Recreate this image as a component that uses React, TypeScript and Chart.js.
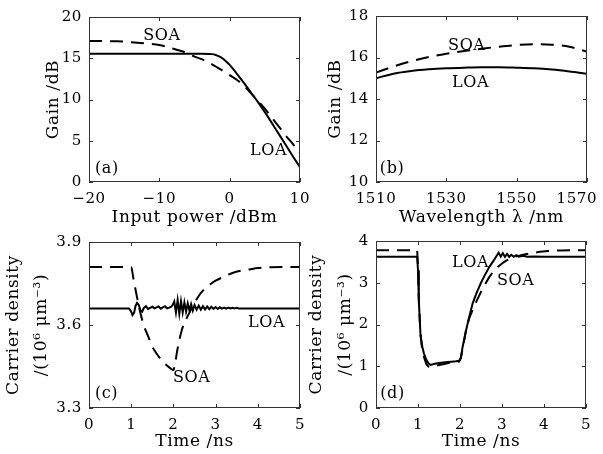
import React, { useEffect, useRef } from 'react';
import { Chart, registerables } from 'chart.js';

Chart.register(...registerables);

const SERIF = '"DejaVu Serif", "Liberation Serif", serif';

// ---------- Panel (a): gain vs input power ----------
const aPowerLOA = [-20, -10, -5, -4, -3, -2.5, -2, -1.5, -1, -0.5, 0, 1, 2, 3, 4, 5, 6, 7, 8, 9, 10];
const aGainLOA = [15.55, 15.55, 15.55, 15.55, 15.53, 15.5, 15.4, 15.22, 14.97, 14.62, 14.2, 13.15, 12.05, 10.88, 9.72, 8.47, 7.15, 5.8, 4.45, 3.1, 1.8];
const aPowerSOA = [-20, -16, -14, -12, -10, -9, -8, -7, -6, -5, -4, -3, -2, -1, 0, 1, 2, 3, 4, 5, 6, 7, 8, 9, 10];
const aGainSOA = [17.1, 17.05, 16.95, 16.8, 16.6, 16.4, 16.15, 15.9, 15.6, 15.2, 14.9, 14.5, 14.0, 13.5, 12.95, 12.4, 11.7, 10.78, 9.85, 8.9, 7.8, 6.7, 5.6, 4.6, 3.5];
const aTicksX = [-20, -10, 0, 10];
const aTicksY = [0, 5, 10, 15, 20];

// ---------- Panel (b): gain vs wavelength ----------
const bWave = [1510, 1515, 1520, 1525, 1530, 1535, 1540, 1545, 1550, 1555, 1560, 1565, 1570];
const bGainLOA = [15.0, 15.22, 15.35, 15.43, 15.48, 15.51, 15.53, 15.53, 15.51, 15.48, 15.42, 15.33, 15.22];
const bGainSOA = [15.27, 15.57, 15.82, 16.02, 16.18, 16.31, 16.42, 16.52, 16.6, 16.64, 16.62, 16.52, 16.28];
const bTicksX = [1510, 1530, 1550, 1570];
const bTicksY = [10, 12, 14, 16, 18];

// ---------- Panel (c): carrier density vs time (small) ----------
const cTimeLOA = [0, 0.95, 1.0, 1.03, 1.07, 1.1, 1.14, 1.18, 1.22, 1.26, 1.3, 1.35, 1.4, 1.45, 1.5, 1.55, 1.6, 1.65, 1.7, 1.75, 1.8, 1.85, 1.9, 1.95, 1.98, 2.02, 2.06, 2.1, 2.14, 2.18, 2.22, 2.26, 2.3, 2.34, 2.38, 2.42, 2.46, 2.5, 2.55, 2.6, 2.65, 2.7, 2.75, 2.8, 2.85, 2.9, 2.95, 3.0, 3.05, 3.1, 3.15, 3.2, 3.25, 3.3, 3.35, 3.4, 3.45, 3.5, 3.55, 5];
const cDensLOA = [3.66, 3.66, 3.648, 3.636, 3.645, 3.668, 3.68, 3.672, 3.652, 3.648, 3.662, 3.668, 3.658, 3.662, 3.666, 3.66, 3.664, 3.667, 3.659, 3.664, 3.668, 3.66, 3.663, 3.666, 3.672, 3.685, 3.645, 3.69, 3.64, 3.686, 3.645, 3.682, 3.648, 3.678, 3.652, 3.675, 3.652, 3.672, 3.655, 3.67, 3.655, 3.668, 3.656, 3.667, 3.657, 3.666, 3.658, 3.665, 3.658, 3.664, 3.659, 3.663, 3.659, 3.663, 3.66, 3.662, 3.66, 3.662, 3.66, 3.66];
const cTimeSOA = [0, 1.0, 1.05, 1.1, 1.2, 1.3, 1.4, 1.5, 1.6, 1.7, 1.8, 1.9, 2.0, 2.05, 2.1, 2.2, 2.3, 2.4, 2.5, 2.6, 2.7, 2.8, 2.9, 3.0, 3.2, 3.4, 3.6, 3.8, 4.0, 4.3, 5];
const cDensSOA = [3.81, 3.81, 3.77, 3.73, 3.655, 3.598, 3.56, 3.522, 3.497, 3.477, 3.46, 3.447, 3.437, 3.47, 3.515, 3.582, 3.62, 3.65, 3.68, 3.705, 3.724, 3.738, 3.75, 3.76, 3.775, 3.788, 3.796, 3.801, 3.806, 3.809, 3.81];
const cTicksX = [0, 1, 2, 3, 4, 5];
const cTicksY = [3.3, 3.6, 3.9];

// ---------- Panel (d): carrier density vs time (large) ----------
const dTimeLOA = [0, 0.98, 1.0, 1.02, 1.06, 1.1, 1.14, 1.2, 1.25, 1.3, 1.4, 1.5, 1.6, 1.7, 1.8, 1.9, 1.98, 2.02, 2.06, 2.12, 2.2, 2.3, 2.4, 2.5, 2.6, 2.7, 2.8, 2.87, 2.92, 2.97, 3.02, 3.07, 3.12, 3.17, 3.22, 3.28, 3.34, 3.4, 3.5, 3.6, 3.75, 4, 5];
const dDensLOA = [3.62, 3.62, 3.3, 2.55, 1.75, 1.48, 1.31, 1.15, 1.07, 1.03, 1.06, 1.08, 1.09, 1.1, 1.11, 1.12, 1.13, 1.2, 1.45, 1.75, 2.1, 2.5, 2.77, 3.0, 3.2, 3.38, 3.53, 3.64, 3.72, 3.63, 3.71, 3.62, 3.69, 3.62, 3.67, 3.62, 3.66, 3.625, 3.645, 3.625, 3.63, 3.62, 3.62];
const dTimeSOA = [0, 0.98, 1.0, 1.02, 1.06, 1.1, 1.15, 1.2, 1.25, 1.3, 1.4, 1.5, 1.6, 1.7, 1.8, 1.9, 1.98, 2.02, 2.08, 2.15, 2.22, 2.3, 2.4, 2.5, 2.6, 2.7, 2.8, 2.9, 3.0, 3.1, 3.2, 3.3, 3.5, 3.7, 3.9, 4.1, 4.4, 5];
const dDensSOA = [3.78, 3.78, 3.4, 2.6, 1.75, 1.4, 1.2, 1.05, 0.99, 0.98, 1.0, 1.03, 1.05, 1.07, 1.09, 1.1, 1.11, 1.2, 1.5, 1.9, 2.15, 2.35, 2.57, 2.78, 2.97, 3.14, 3.28, 3.38, 3.46, 3.53, 3.58, 3.62, 3.67, 3.71, 3.74, 3.76, 3.775, 3.78];
const dTicksX = [0, 1, 2, 3, 4, 5];
const dTicksY = [0, 1, 2, 3, 4];

// ---------- text annotations (data coordinates) ----------
const aNotes = [
  { text: 'SOA', x: -12.3, y: 17.27 },
  { text: 'LOA', x: 2.9, y: 3.27 },
  { text: '(a)', x: -19.15, y: 1.09 },
];
const bNotes = [
  { text: 'SOA', x: 1530.5, y: 16.36 },
  { text: 'LOA', x: 1531.6, y: 14.58 },
  { text: '(b)', x: 1511.1, y: 10.43 },
];
const cNotes = [
  { text: 'LOA', x: 3.77, y: 3.593 },
  { text: 'SOA', x: 1.99, y: 3.394 },
  { text: '(c)', x: 0.14, y: 3.336 },
];
const dNotes = [
  { text: 'LOA', x: 1.81, y: 3.38 },
  { text: 'SOA', x: 2.88, y: 2.95 },
  { text: '(d)', x: 0.1, y: 0.24 },
];

const minusFmt = (v: number) => (v < 0 ? '\u2212' + Math.abs(v) : String(v));
// last wavelength label sits slightly left of its tick, as in the original figure
const waveFmt = (v: number) => (v === bTicksX[bTicksX.length - 1] ? String(v) + '\u2007\u2007' : String(v));

const boxPlugin = {
  id: 'box',
  beforeDraw(chart: any) {
    chart.ctx.letterSpacing = '0.6px';
  },
  afterDatasetsDraw(chart: any) {
    const { ctx, chartArea } = chart;
    const { left, right, top, bottom } = chartArea;
    const xs = chart.scales.x;
    const ys = chart.scales.y;
    ctx.save();
    ctx.strokeStyle = '#333';
    ctx.lineWidth = 1;
    ctx.setLineDash([]);
    ctx.strokeRect(Math.round(left) + 0.5, Math.round(top) + 0.5, Math.round(right - left) - 1, Math.round(bottom - top) - 1);
    const L = 4;
    ctx.beginPath();
    xs.ticks.forEach((t: any) => {
      const px = Math.round(xs.getPixelForValue(t.value)) + 0.5;
      ctx.moveTo(px, bottom);
      ctx.lineTo(px, bottom - L);
      ctx.moveTo(px, top);
      ctx.lineTo(px, top + L);
    });
    ys.ticks.forEach((t: any) => {
      const py = Math.round(ys.getPixelForValue(t.value)) + 0.5;
      ctx.moveTo(left, py);
      ctx.lineTo(left + L, py);
      ctx.moveTo(right, py);
      ctx.lineTo(right - L, py);
    });
    ctx.stroke();
    ctx.restore();
  },
};

const notesPlugin = {
  id: 'notes',
  afterDatasetsDraw(chart: any, _args: any, opts: any) {
    const { ctx } = chart;
    const xs = chart.scales.x;
    const ys = chart.scales.y;
    ctx.save();
    ctx.font = `16px ${SERIF}`;
    ctx.fillStyle = '#000';
    ctx.textAlign = 'left';
    ctx.textBaseline = 'alphabetic';
    (opts.items || []).forEach((n: any) => {
      ctx.fillText(n.text, xs.getPixelForValue(n.x), ys.getPixelForValue(n.y));
    });
    ctx.restore();
  },
};

type Series = { xs: number[]; ys: number[]; dashed: boolean; smooth: boolean };
type Spec = {
  left: number; top: number; W: number; H: number;
  area: [number, number, number, number];
  xMin: number; xMax: number; yMin: number; yMax: number;
  xTicks: number[]; yTicks: number[];
  xFmt: (v: number) => string; yFmt: (v: number) => string;
  xTitle: string; yTitle: string | string[];
  yTitleLineHeight: number | string; yTitlePad: number; xTitlePad: number;
  series: Series[];
  notes: { text: string; x: number; y: number }[];
};

function buildConfig(p: Spec): any {
  const [l, t, r, b] = p.area;
  const tickFont = { family: SERIF, size: 15 };
  return {
    type: 'line',
    data: {
      datasets: p.series.map((s) => ({
        data: s.xs.map((x, i) => ({ x, y: s.ys[i] })),
        borderColor: '#000',
        borderWidth: 2,
        borderDash: s.dashed ? [13, 8] : [],
        pointRadius: 0,
        fill: false,
        tension: 0,
        cubicInterpolationMode: s.smooth ? 'monotone' : 'default',
      })),
    },
    options: {
      responsive: false,
      animation: false,
      devicePixelRatio: 1,
      events: [],
      layout: { padding: { left: 0, top: t, right: p.W - r, bottom: 0 } },
      plugins: {
        legend: { display: false },
        tooltip: { enabled: false },
        notes: { items: p.notes },
      },
      scales: {
        x: {
          type: 'linear',
          min: p.xMin,
          max: p.xMax,
          afterBuildTicks: (sc: any) => {
            sc.ticks = p.xTicks.map((v) => ({ value: v }));
          },
          afterFit: (sc: any) => {
            sc.height = p.H - b;
            sc.paddingLeft = 0;
            sc.paddingRight = 0;
          },
          ticks: {
            font: tickFont,
            color: '#000',
            padding: 8,
            maxRotation: 0,
            autoSkip: false,
            callback: (v: any) => p.xFmt(Number(v)),
          },
          grid: { display: false, drawTicks: false },
          border: { display: false },
          title: {
            display: true,
            text: p.xTitle,
            color: '#000',
            font: { family: SERIF, size: 17 },
            padding: { top: 0, bottom: p.xTitlePad },
          },
        },
        y: {
          type: 'linear',
          min: p.yMin,
          max: p.yMax,
          afterBuildTicks: (sc: any) => {
            sc.ticks = p.yTicks.map((v) => ({ value: v }));
          },
          afterFit: (sc: any) => {
            sc.width = l;
            sc.paddingTop = 0;
            sc.paddingBottom = 0;
          },
          ticks: {
            font: tickFont,
            color: '#000',
            padding: 7,
            autoSkip: false,
            callback: (v: any) => p.yFmt(Number(v)),
          },
          grid: { display: false, drawTicks: false },
          border: { display: false },
          title: {
            display: true,
            text: p.yTitle,
            color: '#000',
            font: { family: SERIF, size: 17, lineHeight: p.yTitleLineHeight },
            padding: { top: p.yTitlePad, bottom: 0 },
          },
        },
      },
    },
    plugins: [boxPlugin, notesPlugin],
  };
}

const specs: Spec[] = [
  {
    left: 0, top: 0, W: 318, H: 228, area: [89, 17, 300, 182],
    xMin: -20, xMax: 10, yMin: 0, yMax: 20, xTicks: aTicksX, yTicks: aTicksY,
    xFmt: minusFmt, yFmt: minusFmt,
    xTitle: 'Input power /dBm', yTitle: 'Gain /dB', yTitleLineHeight: 1.2, yTitlePad: 43, xTitlePad: 0,
    series: [
      { xs: aPowerLOA, ys: aGainLOA, dashed: false, smooth: true },
      { xs: aPowerSOA, ys: aGainSOA, dashed: true, smooth: true },
    ],
    notes: aNotes,
  },
  {
    left: 302, top: 0, W: 301, H: 228, area: [74, 16, 285, 182],
    xMin: 1510, xMax: 1570, yMin: 10, yMax: 18, xTicks: bTicksX, yTicks: bTicksY,
    xFmt: waveFmt, yFmt: (v) => String(v),
    xTitle: 'Wavelength \u03bb /nm', yTitle: 'Gain /dB', yTitleLineHeight: 1.2, yTitlePad: 23, xTitlePad: 0,
    series: [
      { xs: bWave, ys: bGainLOA, dashed: false, smooth: true },
      { xs: bWave, ys: bGainSOA, dashed: true, smooth: true },
    ],
    notes: bNotes,
  },
  {
    left: 0, top: 228, W: 318, H: 226, area: [89, 14, 300, 180],
    xMin: 0, xMax: 5, yMin: 3.3, yMax: 3.9, xTicks: cTicksX, yTicks: cTicksY,
    xFmt: (v) => String(v), yFmt: (v) => v.toFixed(1),
    xTitle: 'Time /ns', yTitle: ['Carrier density', '/(10\u2076 \u03bcm\u207b\u00b3)'], yTitleLineHeight: '28px', yTitlePad: 0, xTitlePad: 2,
    series: [
      { xs: cTimeLOA, ys: cDensLOA, dashed: false, smooth: false },
      { xs: cTimeSOA, ys: cDensSOA, dashed: true, smooth: true },
    ],
    notes: cNotes,
  },
  {
    left: 302, top: 228, W: 301, H: 226, area: [74, 13, 284, 180],
    xMin: 0, xMax: 5, yMin: 0, yMax: 4, xTicks: dTicksX, yTicks: dTicksY,
    xFmt: (v) => String(v), yFmt: (v) => String(v),
    xTitle: 'Time /ns', yTitle: ['Carrier density', '/(10\u2076 \u03bcm\u207b\u00b3)'], yTitleLineHeight: '29px', yTitlePad: 0, xTitlePad: 2,
    series: [
      { xs: dTimeLOA, ys: dDensLOA, dashed: false, smooth: false },
      { xs: dTimeSOA, ys: dDensSOA, dashed: true, smooth: false },
    ],
    notes: dNotes,
  },
];

function Panel({ spec }: { spec: Spec }) {
  const ref = useRef<HTMLCanvasElement>(null);
  useEffect(() => {
    const chart = new Chart(ref.current as HTMLCanvasElement, buildConfig(spec));
    return () => chart.destroy();
  }, [spec]);
  return (
    <div style={{ position: 'absolute', left: spec.left, top: spec.top, width: spec.W, height: spec.H }}>
      <canvas ref={ref} width={spec.W} height={spec.H} style={{ width: spec.W, height: spec.H, display: 'block' }} />
    </div>
  );
}

export default function App() {
  return (
    <div style={{ position: 'absolute', left: 0, top: 0, width: 603, height: 454, background: '#fff' }}>
      {specs.map((s, i) => (
        <Panel key={i} spec={s} />
      ))}
    </div>
  );
}
